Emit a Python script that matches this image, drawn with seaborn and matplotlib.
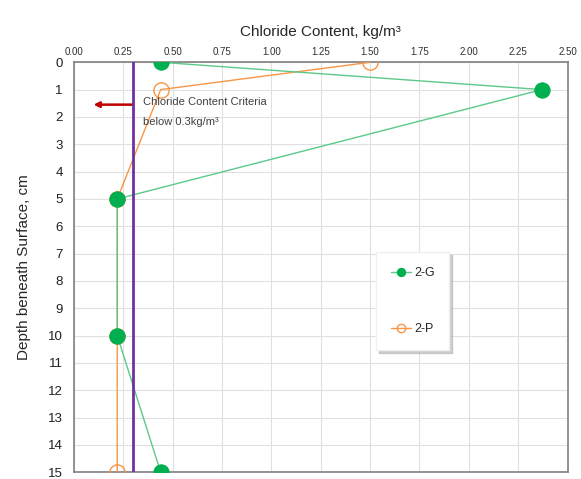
import matplotlib
matplotlib.use("Agg")
import matplotlib.pyplot as plt
import seaborn as sns
import pandas as pd

depths = [0, 1, 5, 10, 15]
g_values = [0.44, 2.37, 0.22, 0.22, 0.44]
p_values = [1.50, 0.44, 0.22, 0.22, 0.22]
series_names = ["2-G", "2-P"]
criteria = 0.3
x_ticks = [0.00, 0.25, 0.50, 0.75, 1.00, 1.25, 1.50, 1.75, 2.00, 2.25, 2.50]
y_ticks = list(range(0, 16))

sns.set_style("white")
plt.rcParams['font.family'] = ['Liberation Sans', 'DejaVu Sans']

df = pd.concat([
    pd.DataFrame({"depth": depths, "value": g_values, "series": series_names[0]}),
    pd.DataFrame({"depth": depths, "value": p_values, "series": series_names[1]}),
])

fig = plt.figure(figsize=(5.81, 4.79), dpi=100)
ax = fig.add_axes([0.127, 0.014, 0.850, 0.856])

green = "#00B050"
orange = "#F79646"

sns.lineplot(data=df[df.series == "2-G"], x="value", y="depth", orient="y",
             estimator=None, sort=False,
             ax=ax, color="#5BC98A", lw=1.0, marker="o", markersize=11,
             markerfacecolor=green, markeredgecolor=green, label="2-G", zorder=4)
sns.lineplot(data=df[df.series == "2-P"], x="value", y="depth", orient="y",
             estimator=None, sort=False,
             ax=ax, color=orange, lw=1.0, marker="o", markersize=11,
             markerfacecolor="none", markeredgecolor=orange, markeredgewidth=1.0,
             label="2-P", zorder=3)

ax.axvline(criteria, color="#7030A0", lw=2, zorder=5)

ax.set_xlim(0, 2.5)
ax.set_ylim(15, 0)
ax.set_xticks(x_ticks)
ax.set_xticklabels([f"{t:.2f}" for t in x_ticks], fontsize=7, color="#303030")
ax.set_yticks(y_ticks)
ax.set_yticklabels([str(t) for t in y_ticks], fontsize=9.5, color="#202020")
ax.xaxis.tick_top()
ax.xaxis.set_label_position("top")
ax.tick_params(axis="both", length=0, pad=4)
ax.tick_params(axis="y", pad=8)
ax.grid(True, color="#E0E0E0", lw=0.8)
for s in ax.spines.values():
    s.set_color("#808080")
    s.set_linewidth(1.2)

ax.set_xlabel("Chloride Content, kg/m\u00b3", fontsize=11, labelpad=8)
ax.set_ylabel("Depth beneath Surface, cm", fontsize=11, labelpad=12)

ax.annotate("", xy=(0.1, 1.55), xytext=(0.3, 1.55),
            arrowprops=dict(arrowstyle="-|>", color="#C00000", lw=1.8,
                            mutation_scale=8, shrinkA=0, shrinkB=0))
ax.text(0.35, 1.45, "Chloride Content Criteria", fontsize=8, color="#404040", va="center")
ax.text(0.35, 2.2, "below 0.3kg/m\u00b3", fontsize=8, color="#404040", va="center")

leg = ax.legend(loc="upper left", bbox_to_anchor=(0.60, 0.552), labelspacing=3.5,
                handlelength=1.6, handletextpad=0.2, fontsize=9, frameon=True,
                fancybox=False, shadow={"color": "#B0B0B0", "alpha": 0.6, "ox": 2, "oy": -2},
                edgecolor="#F0F0F0", borderpad=1.2)
for h in leg.legend_handles:
    h.set_markersize(6)

fig.savefig("out.png", dpi=100)
